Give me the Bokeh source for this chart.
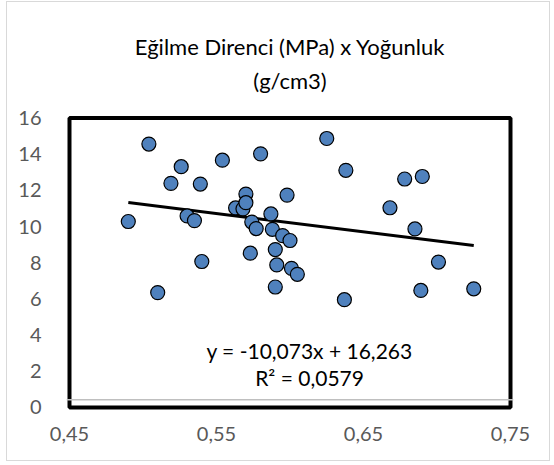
from bokeh.plotting import figure
from bokeh.models import FixedTicker, Label, Span, ColumnDataSource, InlineStyleSheet
from bokeh.embed import file_html
from bokeh.resources import INLINE

# Density (g/cm3) and bending strength (MPa) of the samples
density = [0.490, 0.504, 0.510, 0.519, 0.526, 0.530, 0.535, 0.539, 0.540, 0.554,
           0.563, 0.568, 0.570, 0.570, 0.574, 0.577, 0.573, 0.580, 0.587, 0.588,
           0.590, 0.591, 0.590, 0.595, 0.598, 0.600, 0.601, 0.605, 0.625, 0.638,
           0.637, 0.668, 0.678, 0.685, 0.690, 0.689, 0.701, 0.725]
strength = [10.28, 14.56, 6.35, 12.39, 13.31, 10.59, 10.33, 12.35, 8.07, 13.67,
            11.03, 10.98, 11.80, 11.32, 10.25, 9.89, 8.53, 14.02, 10.70, 9.85,
            8.73, 7.88, 6.66, 9.50, 11.74, 9.23, 7.69, 7.36, 14.87, 13.11,
            5.96, 11.04, 12.63, 9.87, 12.77, 6.47, 8.04, 6.56]

# Linear trendline as reported on the chart
slope = -10.073
intercept = 16.263
r_squared = 0.0579

x_ticks = [0.45, 0.55, 0.65, 0.75]
x_tick_labels = ["0,45", "0,55", "0,65", "0,75"]
y_ticks = [0, 2, 4, 6, 8, 10, 12, 14, 16]
y_tick_labels = ["0", "2", "4", "6", "8", "10", "12", "14", "16"]

title_lines = ["Eğilme Direnci (MPa) x Yoğunluk", "(g/cm3)"]

# axis limits of the plot area
X_MIN, X_MAX = 0.45, 0.75
Y_MIN, Y_MAX = 0, 16

FONT = "Lato"

# thin grey border drawn around the whole chart area
chart_border = InlineStyleSheet(css="""
:host::after {
  content: "";
  position: absolute;
  left: 6px; top: 1px; right: 4px; bottom: 4px;
  border: 1px solid #d9d9d9;
  pointer-events: none;
}
""")

# the canvas frame is a little larger than the plot area so that the
# thick plot-area border is not clipped, and it reaches up to hold the title
x_pad = 0.00204
y_pad = 0.166
p = figure(width=554, height=465,
           x_range=(X_MIN - x_pad, X_MAX + x_pad), y_range=(Y_MIN - y_pad, 22),
           output_backend="svg", toolbar_location=None, title=None,
           min_border_left=66, min_border_right=41,
           min_border_top=9, min_border_bottom=55)
p.stylesheets = [chart_border]
p.background_fill_color = "white"
p.border_fill_color = "white"
p.xgrid.visible = False
p.ygrid.visible = False
p.outline_line_color = None

for ax in (p.xaxis[0], p.yaxis[0]):
    ax.major_tick_line_color = None
    ax.minor_tick_line_color = None
    ax.axis_line_color = None
    ax.major_label_text_font = FONT
    ax.major_label_text_font_size = "20px"
    ax.major_label_text_color = "#595959"

p.xaxis[0].ticker = FixedTicker(ticks=x_ticks)
p.xaxis[0].major_label_overrides = dict(zip(x_ticks, x_tick_labels))
p.xaxis[0].major_label_standoff = 10
p.yaxis[0].ticker = FixedTicker(ticks=y_ticks)
p.yaxis[0].major_label_overrides = dict(zip(y_ticks, y_tick_labels))
p.yaxis[0].major_label_standoff = 19

# plot-area border
p.quad(left=X_MIN, right=X_MAX, bottom=Y_MIN, top=Y_MAX, fill_color=None,
       line_color="black", line_width=4)

# thin grey axis line just above the bottom edge of the plot area
p.add_layout(Span(location=0.43, dimension="width", line_color="#bfbfbf", line_width=1.5))

# trendline over the range of the data
x0, x1 = min(density), max(density)
trend = ColumnDataSource(dict(x=[x0, x1], y=[slope * x0 + intercept, slope * x1 + intercept]))
p.line("x", "y", source=trend, line_color="black", line_width=3)

pts = ColumnDataSource(dict(x=density, y=strength))
p.scatter("x", "y", source=pts, size=14, fill_color="#4f81bd",
          line_color="black", line_width=1.2)

# two-line chart title, centred over the plot area
x_mid = (X_MIN + X_MAX) / 2
for text, ty in zip(title_lines, [19.95, 18.1]):
    p.add_layout(Label(x=x_mid, y=ty, text=text, text_align="center",
                       text_baseline="middle", text_font=FONT, text_font_size="22px",
                       text_color="#000000"))

eq_text = "y = {}x + {}".format(str(slope).replace(".", ","), f"{intercept:.3f}".replace(".", ","))
r2_text = "R² = {}".format(f"{r_squared:.4f}".replace(".", ","))
p.add_layout(Label(x=0.6133, y=3.17, text=eq_text, text_align="center",
                   text_baseline="middle", text_font=FONT, text_font_size="21px",
                   text_color="#000000"))
p.add_layout(Label(x=0.6133, y=1.66, text=r2_text, text_align="center",
                   text_baseline="middle", text_font=FONT, text_font_size="21px",
                   text_color="#000000"))

open("out.html", "w").write(file_html(p, INLINE))
